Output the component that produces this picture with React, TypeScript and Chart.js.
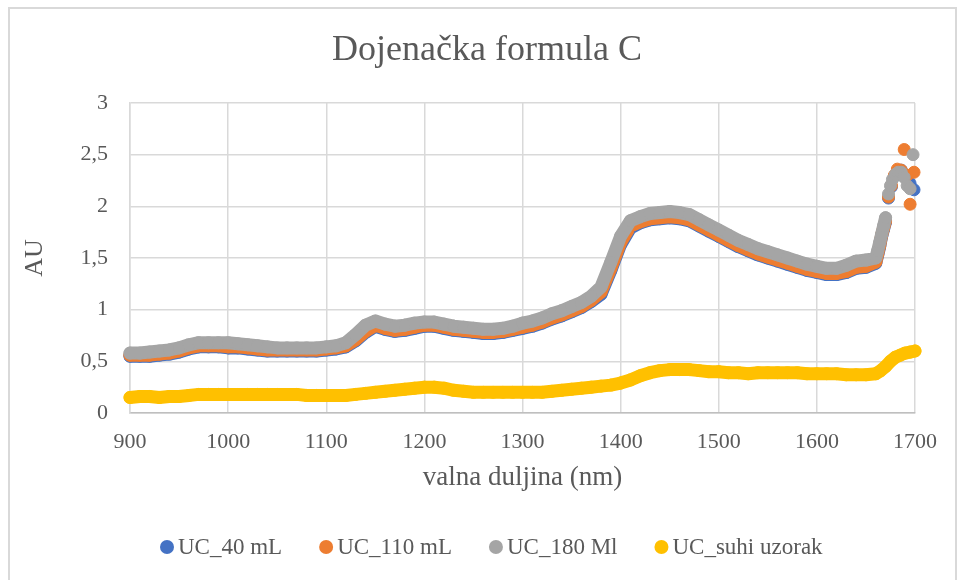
import React, { useEffect, useRef } from "react";
import { Chart, registerables } from "chart.js";

Chart.register(...registerables);

// Wavelengths (nm) of the main part of every series
const wavelengths = [
  900, 910, 920, 930, 940, 950, 960, 970, 980, 990,
  1000, 1010, 1020, 1030, 1040, 1050, 1060, 1070, 1080, 1090,
  1100, 1110, 1120, 1130, 1140, 1150, 1160, 1170, 1180, 1190,
  1200, 1210, 1220, 1230, 1240, 1250, 1260, 1270, 1280, 1290,
  1300, 1310, 1320, 1330, 1340, 1350, 1360, 1370, 1380, 1390,
  1400, 1410, 1420, 1430, 1440, 1450, 1460, 1470, 1480, 1490,
  1500, 1510, 1520, 1530, 1540, 1550, 1560, 1570, 1580, 1590,
  1600, 1610, 1620, 1630, 1640, 1650,
];

const uc40 = [
  0.55, 0.55, 0.55, 0.56, 0.57, 0.59, 0.62, 0.64, 0.64, 0.64,
  0.63, 0.63, 0.62, 0.61, 0.60, 0.60, 0.60, 0.60, 0.60, 0.60,
  0.61, 0.62, 0.64, 0.70, 0.78, 0.84, 0.81, 0.79, 0.80, 0.82,
  0.84, 0.84, 0.82, 0.80, 0.79, 0.78, 0.77, 0.77, 0.78, 0.80,
  0.82, 0.84, 0.87, 0.91, 0.94, 0.98, 1.02, 1.08, 1.15, 1.38,
  1.63, 1.79, 1.84, 1.87, 1.88, 1.89, 1.88, 1.86, 1.81, 1.76,
  1.71, 1.66, 1.61, 1.57, 1.53, 1.50, 1.47, 1.44, 1.41, 1.38,
  1.36, 1.34, 1.34, 1.36, 1.40, 1.41,
];

const uc110 = [
  0.56, 0.56, 0.56, 0.57, 0.58, 0.60, 0.63, 0.65, 0.65, 0.65,
  0.64, 0.64, 0.63, 0.62, 0.61, 0.61, 0.61, 0.61, 0.61, 0.61,
  0.62, 0.63, 0.65, 0.71, 0.79, 0.85, 0.82, 0.80, 0.81, 0.83,
  0.85, 0.85, 0.83, 0.81, 0.80, 0.79, 0.78, 0.78, 0.79, 0.81,
  0.83, 0.85, 0.88, 0.92, 0.95, 0.99, 1.03, 1.09, 1.17, 1.40,
  1.65, 1.81, 1.85, 1.88, 1.89, 1.90, 1.89, 1.87, 1.82, 1.77,
  1.72, 1.67, 1.62, 1.58, 1.54, 1.51, 1.48, 1.45, 1.42, 1.39,
  1.37, 1.35, 1.35, 1.37, 1.41, 1.42,
];

const uc180 = [
  0.58, 0.58, 0.59, 0.60, 0.61, 0.63, 0.66, 0.68, 0.68, 0.68,
  0.68, 0.67, 0.66, 0.65, 0.64, 0.63, 0.63, 0.63, 0.63, 0.63,
  0.64, 0.65, 0.68, 0.76, 0.85, 0.89, 0.86, 0.84, 0.85, 0.87,
  0.88, 0.88, 0.86, 0.84, 0.83, 0.82, 0.81, 0.81, 0.82, 0.84,
  0.87, 0.89, 0.92, 0.96, 0.99, 1.03, 1.07, 1.13, 1.22, 1.46,
  1.71, 1.86, 1.90, 1.93, 1.94, 1.95, 1.94, 1.92, 1.87, 1.82,
  1.77, 1.72, 1.67, 1.63, 1.59, 1.56, 1.53, 1.50, 1.47, 1.44,
  1.42, 1.40, 1.40, 1.43, 1.47, 1.48,
];

const ucSuhi = [
  0.15, 0.16, 0.16, 0.15, 0.16, 0.16, 0.17, 0.18, 0.18, 0.18,
  0.18, 0.18, 0.18, 0.18, 0.18, 0.18, 0.18, 0.18, 0.17, 0.17,
  0.17, 0.17, 0.17, 0.18, 0.19, 0.20, 0.21, 0.22, 0.23, 0.24,
  0.25, 0.25, 0.24, 0.22, 0.21, 0.20, 0.20, 0.20, 0.20, 0.20,
  0.20, 0.20, 0.20, 0.21, 0.22, 0.23, 0.24, 0.25, 0.26, 0.27,
  0.29, 0.32, 0.36, 0.39, 0.41, 0.42, 0.42, 0.42, 0.41, 0.40,
  0.40, 0.39, 0.39, 0.38, 0.39, 0.39, 0.39, 0.39, 0.39, 0.38,
  0.38, 0.38, 0.38, 0.37, 0.37, 0.37,
];

// Noisy end of the spectra (1660–1700 nm)
const tail40X = [1660, 1662, 1664, 1666, 1668, 1670, 1673, 1676, 1679, 1682, 1686, 1689, 1692, 1695, 1699];
const tail40Y = [1.45, 1.53, 1.61, 1.71, 1.78, 1.85, 2.08, 2.19, 2.29, 2.34, 2.35, 2.30, 2.28, 2.22, 2.16];

const tail110X = [1660, 1662, 1664, 1666, 1668, 1670, 1673, 1676, 1679, 1682, 1686, 1689, 1692, 1695, 1699];
const tail110Y = [1.46, 1.54, 1.62, 1.72, 1.79, 1.86, 2.09, 2.20, 2.30, 2.36, 2.35, 2.55, 2.30, 2.02, 2.33];

const tail180X = [1660, 1662, 1664, 1666, 1668, 1670, 1673, 1675, 1677, 1680, 1683, 1686, 1689, 1692, 1695, 1698];
const tail180Y = [1.50, 1.57, 1.65, 1.73, 1.81, 1.89, 2.12, 2.20, 2.26, 2.31, 2.33, 2.33, 2.28, 2.20, 2.17, 2.50];

const tailSuhiX = [1660, 1665, 1670, 1675, 1680, 1685, 1690, 1695, 1700];
const tailSuhiY = [0.38, 0.41, 0.45, 0.50, 0.54, 0.56, 0.58, 0.59, 0.60];

const seriesNames = ["UC_40 mL", "UC_110 mL", "UC_180 Ml", "UC_suhi uzorak"];
const seriesColors = ["#4472C4", "#ED7D31", "#A5A5A5", "#FFC000"];

const xTicks = [900, 1000, 1100, 1200, 1300, 1400, 1500, 1600, 1700];
const yTicks = [0, 0.5, 1, 1.5, 2, 2.5, 3];

const titleText = "Dojenačka formula C";
const xTitle = "valna duljina (nm)";
const yTitle = "AU";

const FONT = '"Liberation Serif", "Times New Roman", serif';
const TEXT = "#595959";

function toPoints(xs: number[], ys: number[], tx: number[], ty: number[]) {
  const pts = xs.map((x, i) => ({ x, y: ys[i] }));
  tx.forEach((x, i) => pts.push({ x, y: ty[i] }));
  return pts;
}

const decorPlugin = {
  id: "excelDecor",
  afterDraw(chart: any) {
    const ctx = chart.ctx as CanvasRenderingContext2D;
    ctx.save();
    // title
    ctx.font = `36px ${FONT}`;
    ctx.fillStyle = TEXT;
    ctx.textAlign = "center";
    ctx.textBaseline = "middle";
    ctx.fillText(titleText, 487, 51);
    // legend
    ctx.font = `23px ${FONT}`;
    ctx.textBaseline = "middle";
    ctx.textAlign = "left";
    let x = 160;
    const y = 547;
    seriesNames.forEach((name, i) => {
      ctx.fillStyle = seriesColors[i];
      ctx.beginPath();
      ctx.arc(x + 7, y, 7, 0, Math.PI * 2);
      ctx.fill();
      ctx.fillStyle = TEXT;
      ctx.fillText(name, x + 18, y + 1);
      x += 18 + ctx.measureText(name).width + 37;
    });
    ctx.restore();
  },
};

export default function App() {
  const ref = useRef<HTMLCanvasElement | null>(null);

  useEffect(() => {
    if (!ref.current) return;
    const series = [
      { pts: toPoints(wavelengths, uc40, tail40X, tail40Y), order: 3, hideFrom: 1670 },
      { pts: toPoints(wavelengths, uc110, tail110X, tail110Y), order: 2, hideFrom: 1670 },
      { pts: toPoints(wavelengths, uc180, tail180X, tail180Y), order: 1, hideFrom: 1670 },
      { pts: toPoints(wavelengths, ucSuhi, tailSuhiX, tailSuhiY), order: 0, hideFrom: 99999 },
    ];
    const chart = new Chart(ref.current, {
      type: "scatter",
      data: {
        datasets: series.map((s, i) => ({
          label: seriesNames[i],
          data: s.pts,
          order: s.order,
          showLine: true,
          borderColor: seriesColors[i],
          backgroundColor: seriesColors[i],
          borderWidth: 13,
          borderJoinStyle: "round" as const,
          borderCapStyle: "round" as const,
          pointRadius: 6,
          pointBorderWidth: 1,
          pointHoverRadius: 6,
          pointBackgroundColor: seriesColors[i],
          pointBorderColor: seriesColors[i],
          clip: false as any,
          segment: {
            borderColor: (ctx: any) =>
              ctx.p0.parsed.x >= s.hideFrom ? "rgba(0,0,0,0)" : undefined,
          },
        })),
      },
      options: {
        responsive: false,
        animation: false,
        events: [],
        layout: { padding: { left: 0, right: 46, top: 103, bottom: 88 } },
        plugins: {
          legend: { display: false },
          tooltip: { enabled: false },
          title: { display: false },
        },
        scales: {
          x: {
            type: "linear",
            min: xTicks[0],
            max: xTicks[xTicks.length - 1],
            afterFit: (s: any) => {
              s.height = 79;
            },
            afterBuildTicks: (s: any) => {
              s.ticks = xTicks.map((v) => ({ value: v }));
            },
            ticks: {
              color: TEXT,
              font: { family: FONT, size: 22 },
              padding: 16,
              maxRotation: 0,
              callback: (v: any) => String(v),
            },
            grid: { color: "#d9d9d9", lineWidth: 1.5, drawTicks: false },
            border: { color: "#bfbfbf", width: 1.5 },
            title: {
              display: true,
              text: xTitle,
              color: TEXT,
              font: { family: FONT, size: 27, lineHeight: 1.2 },
              padding: { top: 0, bottom: -2 },
            },
          },
          y: {
            type: "linear",
            min: yTicks[0],
            max: yTicks[yTicks.length - 1],
            afterFit: (s: any) => {
              s.width = 130;
            },
            afterBuildTicks: (s: any) => {
              s.ticks = yTicks.map((v) => ({ value: v }));
            },
            ticks: {
              color: TEXT,
              font: { family: FONT, size: 22 },
              padding: 22,
              callback: (v: any) => String(v).replace(".", ","),
            },
            grid: { color: "#d9d9d9", lineWidth: 1.5, drawTicks: false },
            border: { color: "#d9d9d9", width: 1.5 },
            title: {
              display: true,
              text: yTitle,
              color: TEXT,
              font: { family: FONT, size: 26, lineHeight: 1.2 },
              padding: { top: 20, bottom: 0 },
            },
          },
        },
      },
      plugins: [decorPlugin],
    });
    return () => chart.destroy();
  }, []);

  return (
    <div
      style={{
        position: "fixed",
        left: 0,
        top: 0,
        width: 961,
        height: 580,
        background: "#ffffff",
        overflow: "hidden",
      }}
    >
      <div
        style={{
          position: "absolute",
          left: 8,
          top: 7,
          width: 945,
          height: 600,
          border: "2px solid #d9d9d9",
          pointerEvents: "none",
        }}
      />
      <canvas
        ref={ref}
        width={961}
        height={580}
        style={{ position: "absolute", left: 0, top: 0, width: 961, height: 580 }}
      />
    </div>
  );
}
